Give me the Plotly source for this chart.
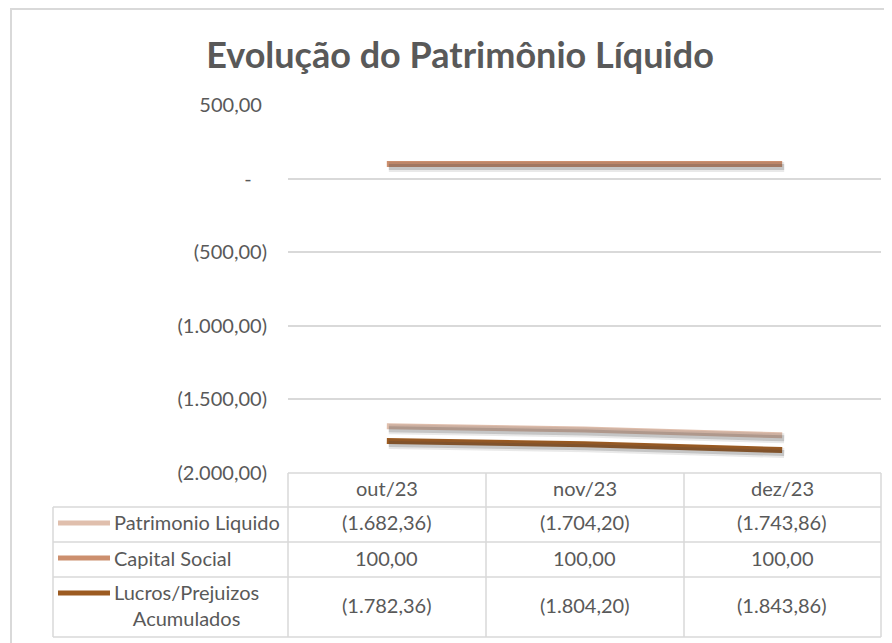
import plotly.graph_objects as go

# ---------------- data ----------------
categories = ["out/23", "nov/23", "dez/23"]
series_names = ["Patrimonio Liquido", "Capital Social", "Lucros/Prejuizos<br>Acumulados"]
patrimonio_liquido = [-1682.36, -1704.20, -1743.86]
capital_social = [100.00, 100.00, 100.00]
lucros_prejuizos = [-1782.36, -1804.20, -1843.86]
y_tickvals = [-2000, -1500, -1000, -500, 0, 500]
y_ticktext = ["(2.000,00)", "(1.500,00)", "(1.000,00)", "(500,00)", "-\u00a0\u00a0\u00a0", "500,00\u00a0"]
title_text = "Evolução do Patrimônio Líquido"

# ---------------- style ----------------
colors = ["#E0BFAD", "#CC8F6E", "#9C5B21"]
TXT = "#595959"
GRID = "#D9D9D9"
FONT = "Lato"
FS = 20

OFF = 8  # page body margin
W, H = 892 - OFF, 643 - OFF
# plot area in screen (reference) pixels
L_PX, R_PX, T_PX, B_PX = 288, 881, 105, 473

def xp(px):
    return (px - L_PX) / (R_PX - L_PX)

def yp(py):
    return (B_PX - py) / (B_PX - T_PX)

def fmt(v):
    s = f"{abs(v):,.2f}".replace(",", "X").replace(".", ",").replace("X", ".")
    return f"({s})" if v < 0 else s

series = [patrimonio_liquido, capital_social, lucros_prejuizos]

fig = go.Figure()

# shadow offsets (pixels) converted to axis units
dx = 2 / ((R_PX - L_PX) / 3)
dy = 3 * 2500 / (B_PX - T_PX)

for vals in series:
    fig.add_trace(go.Scatter(x=categories, y=vals, mode="lines", xaxis="x2", yaxis="y2",
                             line=dict(color="rgba(70,70,70,0.12)", width=10),
                             hoverinfo="skip", showlegend=False))
    fig.add_trace(go.Scatter(x=categories, y=vals, mode="lines", xaxis="x2", yaxis="y2",
                             line=dict(color="rgba(70,70,70,0.22)", width=6),
                             hoverinfo="skip", showlegend=False))
for name, vals, c in zip(series_names, series, colors):
    fig.add_trace(go.Scatter(x=categories, y=vals, mode="lines", name=name.replace("<br>", " "),
                             line=dict(color=c, width=6), showlegend=False))

shapes = []
# outer frame
shapes.append(dict(type="rect", xref="paper", yref="paper", x0=xp(11), x1=xp(905), y0=yp(660), y1=yp(9),
                   line=dict(color=GRID, width=2), fillcolor="rgba(0,0,0,0)", layer="below"))

# table grid
row_y = [473, 507, 542, 577, 637]
col_x = [288, 486, 684, 881]

def hline(y, x0, x1):
    shapes.append(dict(type="line", xref="paper", yref="paper", x0=xp(x0), x1=xp(x1), y0=yp(y), y1=yp(y),
                       line=dict(color=GRID, width=1.5)))

def vline(x, y0, y1):
    shapes.append(dict(type="line", xref="paper", yref="paper", x0=xp(x), x1=xp(x), y0=yp(y0), y1=yp(y1),
                       line=dict(color=GRID, width=1.5)))

hline(row_y[0], col_x[0], col_x[-1])
for y in row_y[1:]:
    hline(y, 53, col_x[-1])
vline(53, row_y[1], row_y[-1])
for x in col_x:
    vline(x, row_y[0], row_y[-1])

annotations = []
# header
for cat in categories:
    annotations.append(dict(xref="x", yref="paper", x=cat, y=yp(488), text=cat, showarrow=False,
                            font=dict(family=FONT, size=FS, color=TXT), xanchor="center", yanchor="middle"))
# rows
row_centers = [522, 557.5, 605]
key_y = [523, 558, 593]
for name, vals, c, rc, ky in zip(series_names, series, colors, row_centers, key_y):
    shapes.append(dict(type="line", xref="paper", yref="paper", x0=xp(58), x1=xp(110), y0=yp(ky), y1=yp(ky),
                       line=dict(color=c, width=5)))
    annotations.append(dict(xref="paper", yref="paper", x=xp(112), y=yp(rc), text=name, showarrow=False,
                            align="center", xanchor="left", yanchor="middle",
                            font=dict(family=FONT, size=FS, color=TXT)))
    for cat, v in zip(categories, vals):
        annotations.append(dict(xref="x", yref="paper", x=cat, y=yp(rc), text=fmt(v), showarrow=False,
                                xanchor="center", yanchor="middle",
                                font=dict(family=FONT, size=FS, color=TXT)))

fig.update_layout(
    width=W, height=H,
    margin=dict(l=L_PX - OFF, r=(892 - OFF) - (R_PX - OFF), t=T_PX - OFF, b=(643 - OFF) - (B_PX - OFF), pad=0),
    paper_bgcolor="white", plot_bgcolor="white",
    title=dict(text=title_text, x=(460 - OFF) / W, xref="container", y=1 - (55 - OFF) / H,
               xanchor="center", yanchor="middle",
               font=dict(family=FONT, size=36, color=TXT, weight="bold")),
    xaxis=dict(range=[-0.5, 2.5], showticklabels=False, showgrid=False, zeroline=False, showline=False,
               fixedrange=True),
    xaxis2=dict(range=[-0.5 - dx, 2.5 - dx], overlaying="x", visible=False, fixedrange=True),
    yaxis=dict(range=[-2000, 500], tickvals=y_tickvals, ticktext=y_ticktext, showgrid=True,
               gridcolor=GRID, gridwidth=1.5, zeroline=False, showline=False, ticks="",
               ticklabelstandoff=20, tickfont=dict(family=FONT, size=FS, color=TXT), fixedrange=True),
    yaxis2=dict(range=[-2000 + dy, 500 + dy], overlaying="y", visible=False, fixedrange=True),
    shapes=shapes, annotations=annotations, showlegend=False,
)

fig.write_html("out.html")
